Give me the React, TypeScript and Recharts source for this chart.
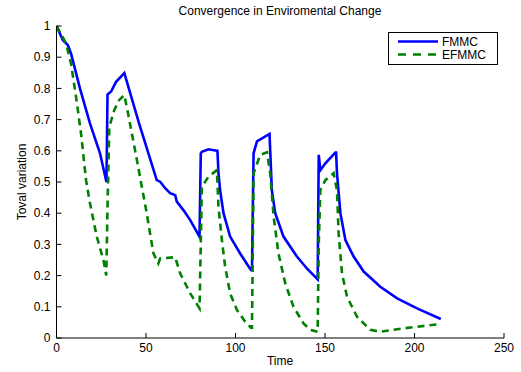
import { LineChart, Line, XAxis, YAxis } from 'recharts';

const xTicks = [0, 50, 100, 150, 200, 250];
const yTicks = [0, 0.1, 0.2, 0.3, 0.4, 0.5, 0.6, 0.7, 0.8, 0.9, 1];

const fmmcT = [0, 3.5, 6.3, 8.1, 13.1, 18.7, 24.3, 27.9, 28.5, 30.5, 33.3, 37.9, 46, 56, 57.9, 60.7, 63.5, 66.3, 67.2, 70.9, 74.7, 79.9, 80.6, 81.2, 84.9, 89.6, 89.9, 90.5, 91.4, 93.3, 97, 102.6, 108.6, 109.2, 110.1, 112, 114.8, 119, 119.4, 120.3, 122.2, 126.8, 134.3, 140, 145.9, 146.5, 147.4, 150.2, 155.8, 156.2, 156.7, 158.6, 161.4, 166, 171.6, 180.9, 190.3, 201.4, 214.7];
const fmmcV = [1, 0.955, 0.939, 0.912, 0.8, 0.688, 0.592, 0.5, 0.78, 0.79, 0.821, 0.849, 0.69, 0.506, 0.501, 0.48, 0.464, 0.458, 0.437, 0.41, 0.378, 0.325, 0.592, 0.597, 0.605, 0.6, 0.6, 0.528, 0.474, 0.4, 0.325, 0.271, 0.218, 0.218, 0.592, 0.63, 0.64, 0.654, 0.6, 0.474, 0.4, 0.325, 0.261, 0.222, 0.188, 0.587, 0.538, 0.56, 0.594, 0.594, 0.528, 0.4, 0.314, 0.261, 0.213, 0.164, 0.127, 0.095, 0.061];

const efmmcT = [0, 2.5, 5.3, 8.1, 10.9, 13.7, 16.5, 18.7, 22.5, 26.2, 27.8, 28.6, 29.5, 32.3, 35.1, 37.9, 39.8, 44.9, 50.4, 54.1, 56.9, 57.9, 66.3, 69.1, 74.7, 79.9, 80.6, 81.2, 84.9, 89.6, 90.5, 92.4, 94.2, 97, 100.8, 105.4, 108.6, 109.2, 110.1, 113.8, 117.6, 119.4, 121.3, 124, 127.8, 132.4, 138, 141.8, 145.9, 146.5, 147.4, 150.2, 154.8, 156.7, 157.6, 159.5, 162.3, 167.9, 175.3, 180.9, 194, 214.7];
const efmmcV = [1, 0.975, 0.944, 0.88, 0.773, 0.656, 0.506, 0.432, 0.325, 0.25, 0.2, 0.45, 0.677, 0.731, 0.763, 0.779, 0.725, 0.571, 0.4, 0.272, 0.239, 0.255, 0.259, 0.207, 0.143, 0.095, 0.3, 0.485, 0.517, 0.538, 0.42, 0.314, 0.229, 0.143, 0.09, 0.052, 0.033, 0.033, 0.528, 0.587, 0.595, 0.528, 0.389, 0.271, 0.175, 0.1, 0.047, 0.026, 0.02, 0.3, 0.474, 0.506, 0.528, 0.474, 0.336, 0.207, 0.132, 0.068, 0.026, 0.02, 0.031, 0.045];

const fmmc = fmmcT.map((t, i) => ({ t, v: fmmcV[i] }));
const efmmc = efmmcT.map((t, i) => ({ t, v: efmmcV[i] }));

const font = '"Liberation Sans", Arial, sans-serif';
const tickStyle = { fontSize: 12, fill: '#000', fontFamily: font };

export default function App() {
  return (
    <div style={{ position: 'absolute', left: 0, top: 0, width: 521, height: 372, background: '#fff', fontFamily: font }}>
      <LineChart width={521} height={372} margin={{ top: 26, right: 17, bottom: 4, left: 16.5 }}>
        <XAxis
          xAxisId="b"
          type="number"
          dataKey="t"
          domain={[0, 250]}
          ticks={xTicks}
          allowDataOverflow
          height={30}
          tickSize={-5}
          tickMargin={10}
          tick={tickStyle}
          stroke="#000"
        />
        <XAxis
          xAxisId="t"
          orientation="top"
          type="number"
          dataKey="t"
          domain={[0, 250]}
          ticks={xTicks}
          height={0}
          tickSize={-5}
          tick={false}
          stroke="#000"
        />
        <YAxis
          yAxisId="l"
          type="number"
          domain={[0, 1]}
          ticks={yTicks}
          width={40}
          tickSize={-5}
          tickMargin={11}
          tick={tickStyle}
          tickFormatter={(v: number) => String(Math.round(v * 10) / 10)}
          stroke="#000"
        />
        <YAxis
          yAxisId="r"
          orientation="right"
          type="number"
          domain={[0, 1]}
          ticks={yTicks}
          width={0}
          tickSize={-5}
          tick={false}
          stroke="#000"
        />
        <Line
          xAxisId="b"
          yAxisId="l"
          data={fmmc}
          dataKey="v"
          type="linear"
          stroke="#0000ff"
          strokeWidth={2.6}
          dot={false}
          isAnimationActive={false}
        />
        <Line
          xAxisId="b"
          yAxisId="l"
          data={efmmc}
          dataKey="v"
          type="linear"
          stroke="#008000"
          strokeWidth={2.6}
          strokeDasharray="7 5"
          dot={false}
          isAnimationActive={false}
        />
      </LineChart>
      <div style={{ position: 'absolute', left: 56, width: 448, top: 4, textAlign: 'center', fontSize: 12 }}>
        Convergence in Enviromental Change
      </div>
      <div style={{ position: 'absolute', left: 56, width: 448, top: 354, textAlign: 'center', fontSize: 12 }}>
        Time
      </div>
      <div
        style={{
          position: 'absolute',
          left: 22,
          top: 182,
          fontSize: 12,
          whiteSpace: 'nowrap',
          transform: 'translate(-50%, -50%) rotate(-90deg)',
        }}
      >
        Toval variation
      </div>
      <div
        style={{
          position: 'absolute',
          left: 388,
          top: 32,
          width: 108,
          height: 31,
          border: '1px solid #000',
          background: '#fff',
          fontSize: 12,
        }}
      >
        <svg width={108} height={31} style={{ position: 'absolute', left: 0, top: 0 }}>
          <line x1={9} x2={49} y1={8.5} y2={8.5} stroke="#0000ff" strokeWidth={2.6} />
          <line x1={9} x2={49} y1={21.5} y2={21.5} stroke="#008000" strokeWidth={2.6} strokeDasharray="8 7" />
          <text x={53} y={13} fontSize={12} fontFamily={font}>FMMC</text>
          <text x={53} y={26} fontSize={12} fontFamily={font}>EFMMC</text>
        </svg>
      </div>
    </div>
  );
}
